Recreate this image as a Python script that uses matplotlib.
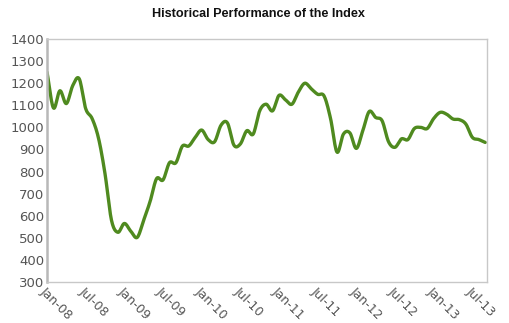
import numpy as np
import matplotlib
matplotlib.use("Agg")
import matplotlib.pyplot as plt

# Monthly index level from Jan-08 on
MONTHS = list(range(69))
INDEX_VALUES = [
    1250, 1088, 1166, 1108, 1190, 1220, 1085, 1040, 950, 790,
    580, 525, 565, 530, 502, 580, 665, 768, 762, 840,
    840, 915, 916, 955, 988, 945, 935, 1010, 1020, 920,
    925, 985, 970, 1075, 1105, 1075, 1145, 1125, 1105, 1160,
    1200, 1175, 1150, 1142, 1040, 888, 970, 975, 905, 985,
    1072, 1045, 1030, 935, 910, 948, 945, 995, 1000, 995,
    1040, 1068, 1060, 1038, 1035, 1015, 955, 945, 932,
]
TICK_MONTHS = list(range(0, 67, 6))
TICK_LABELS = ["Jan-08", "Jul-08", "Jan-09", "Jul-09", "Jan-10", "Jul-10",
               "Jan-11", "Jul-11", "Jan-12", "Jul-12", "Jan-13", "Jul-13"]
Y_TICKS = list(range(300, 1401, 100))

LINE_COLOR = "#4f8a1f"
TEXT_COLOR = "#555555"


def smooth(x, y, steps=12):
    """Catmull-Rom curve through the points, like the spline line in the original."""
    x = np.asarray(x, float)
    y = np.asarray(y, float)
    px = np.concatenate([[2 * x[0] - x[1]], x, [2 * x[-1] - x[-2]]])
    py = np.concatenate([[2 * y[0] - y[1]], y, [2 * y[-1] - y[-2]]])
    xs, ys = [], []
    t = np.linspace(0, 1, steps, endpoint=False)
    for i in range(1, len(px) - 2):
        for p, out in ((px, xs), (py, ys)):
            p0, p1, p2, p3 = p[i - 1], p[i], p[i + 1], p[i + 2]
            out.append(0.5 * (2 * p1 + (-p0 + p2) * t
                              + (2 * p0 - 5 * p1 + 4 * p2 - p3) * t ** 2
                              + (-p0 + 3 * p1 - 3 * p2 + p3) * t ** 3))
    xs.append([x[-1]])
    ys.append([y[-1]])
    return np.concatenate(xs), np.concatenate(ys)


fig = plt.figure(figsize=(5.1, 3.23), dpi=100)
ax = fig.add_axes([0.0922, 0.127, 0.863, 0.752])

sx, sy = smooth(MONTHS, INDEX_VALUES)
ax.plot(sx, sy, color=LINE_COLOR, linewidth=2.4, solid_capstyle="round")

ax.set_xlim(0, 68.3)
ax.set_ylim(300, 1400)
ax.set_yticks(Y_TICKS)
ax.set_yticklabels([str(v) for v in Y_TICKS])
ax.set_xticks(TICK_MONTHS)
ax.set_xticklabels(TICK_LABELS, rotation=-45, ha="left", va="top",
                   rotation_mode="anchor")
ax.tick_params(axis="both", length=0, colors=TEXT_COLOR)
ax.tick_params(axis="y", pad=2, labelsize=9.5)
ax.tick_params(axis="x", pad=2, labelsize=9)

for side in ["top", "right", "bottom"]:
    ax.spines[side].set_color("#c8c8c8")
    ax.spines[side].set_linewidth(1.0)
ax.spines["left"].set_color("#b8b8b8")
ax.spines["left"].set_linewidth(1.8)

fig.text(0.507, 0.957, "Historical Performance of the Index", ha="center",
         va="center", fontsize=9.1, fontweight="bold",
         family="Liberation Sans", color="#111111")

fig.savefig("out.png", dpi=100)
